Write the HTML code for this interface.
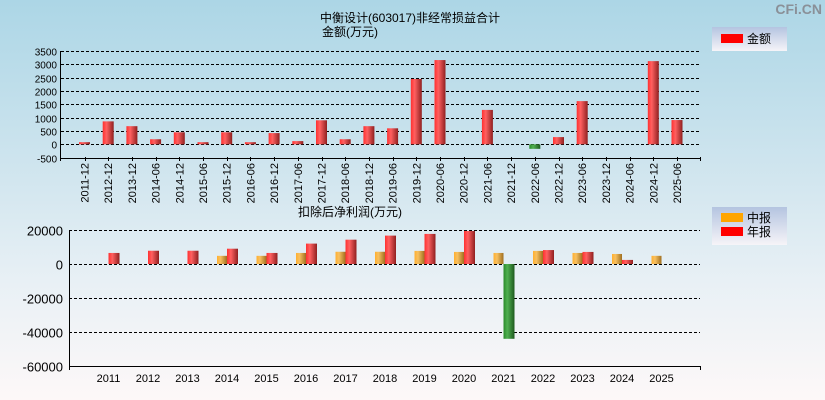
<!DOCTYPE html>
<html><head><meta charset="utf-8"><style>
html,body{margin:0;padding:0;}
body{width:825px;height:400px;overflow:hidden;background:linear-gradient(#acd6e6 0%,#d2e6ef 45%,#e8f0f5 70%,#fdf8f8 100%);font-family:"Liberation Sans","Noto Sans CJK SC",sans-serif;}
svg{position:absolute;left:0;top:0;}
</style></head><body>
<svg id="c" width="825" height="400" xmlns="http://www.w3.org/2000/svg">
<defs>
<linearGradient id="gr" x1="0" x2="1"><stop offset="0" stop-color="#ff3030"/><stop offset="0.35" stop-color="#ff6060"/><stop offset="1" stop-color="#902020"/></linearGradient>
<linearGradient id="gg" x1="0" x2="1"><stop offset="0" stop-color="#2a8a2a"/><stop offset="0.35" stop-color="#50b050"/><stop offset="1" stop-color="#1e5a1e"/></linearGradient>
<linearGradient id="go" x1="0" x2="1"><stop offset="0" stop-color="#ffb030"/><stop offset="0.35" stop-color="#f8c060"/><stop offset="1" stop-color="#a07020"/></linearGradient>
<linearGradient id="lg" x1="0" y1="0" x2="0" y2="1"><stop offset="0" stop-color="#b4c4e0"/><stop offset="1" stop-color="#f6f4f8"/></linearGradient>
</defs>
<text x="410" y="22" font-size="12" text-anchor="middle">中衡设计(603017)非经常损益合计</text>
<text x="322" y="36" font-size="12">金额(万元)</text>
<text x="822" y="14" font-size="14" font-weight="bold" fill="#8a9098" text-anchor="end">CFi.CN</text>
<g>
<rect x="712" y="27" width="75" height="24" fill="url(#lg)"/>
<rect x="721" y="34" width="22" height="9" fill="#ff0000"/>
<text x="747" y="43" font-size="12">金额</text>
</g>
<text x="298" y="216" font-size="12">扣除后净利润(万元)</text>
<g>
<rect x="712" y="207" width="75" height="38" fill="url(#lg)"/>
<rect x="721" y="213" width="22" height="9" fill="#ffa500"/>
<text x="747" y="222" font-size="12">中报</text>
<rect x="721" y="227" width="22" height="9" fill="#ff0000"/>
<text x="747" y="236" font-size="12">年报</text>
</g>
<g id="top"></g><g id="bot"></g>
</svg>
<script>
const topCats=["2011-12","2012-12","2013-12","2014-06","2014-12","2015-06","2015-12","2016-06","2016-12","2017-06","2017-12","2018-06","2018-12","2019-06","2019-12","2020-06","2020-12","2021-06","2021-12","2022-06","2022-12","2023-06","2023-12","2024-06","2024-12","2025-06"];
const topVals=[80,860,680,190,450,80,450,80,420,120,900,190,680,600,2450,3160,0,1290,0,-170,270,1620,0,0,3120,910];
const topTicks=[3500,3000,2500,2000,1500,1000,500,0,-500];
const botYears=["2011","2012","2013","2014","2015","2016","2017","2018","2019","2020","2021","2022","2023","2024","2025"];
const botInterim=[null,null,null,4800,4800,6500,7200,7200,7700,7100,6500,7700,6500,5900,4800];
const botAnnual=[6500,7800,7800,9000,6500,12000,14300,16700,17700,19400,-44000,8200,7100,2400,null];
const botTicks=[20000,0,-20000,-40000,-60000];
const NS="http://www.w3.org/2000/svg";
function mk(p,t,a){const e=document.createElementNS(NS,t);for(const k in a)e.setAttribute(k,a[k]);p.appendChild(e);return e;}
// top chart
const T=document.getElementById('top');
const tY=v=>144.3-v*(93.3/3500);
const tX=i=>84.5+i*(592.5/25);
topTicks.forEach(v=>{
  const y=Math.round(tY(v))+0.5;
  const l=mk(T,'line',{x1:61,x2:700,y1:y,y2:y,stroke:'#000','stroke-dasharray':'3,2'});
  
  
  if(v===-500){l.setAttribute('stroke-dasharray','none');}
  const t=mk(T,'text',{x:57,y:y+4,'font-size':10,'text-anchor':'end'});t.textContent=v;
  
  
});
mk(T,'line',{x1:60.5,x2:60.5,y1:51,y2:161,stroke:'#000'});
mk(T,'line',{x1:700.5,x2:700.5,y1:157,y2:161,stroke:'#000'});
topCats.forEach((c,i)=>{
  const x=tX(i);const v=topVals[i];
  if(v!==0){const y0=tY(0),y1=tY(v);
    const r=mk(T,'rect',{x:x-5.5,y:Math.min(y0,y1),width:11,height:Math.max(1,Math.abs(y1-y0)),fill:v<0?'url(#gg)':'url(#gr)'});
    
    }
  mk(T,'line',{x1:Math.round(x)+0.5,x2:Math.round(x)+0.5,y1:157,y2:161,stroke:'#000'});
  const t=mk(T,'text',{x:0,y:0,'font-size':11,'text-anchor':'end',transform:`translate(${x+4},163) rotate(-90)`});t.textContent=c;
  
  
});
// bottom chart
const B=document.getElementById('bot');
const bY=v=>264-v*(34/20000);
const bX=i=>108.5+i*(553/14);
botTicks.forEach(v=>{
  const y=Math.round(bY(v))+0.5;
  const l=mk(B,'line',{x1:69,x2:700,y1:y,y2:y,stroke:'#000','stroke-dasharray':'3,2'});
  
  
  if(v===-60000)l.setAttribute('stroke-dasharray','none');
  const t=mk(B,'text',{x:63,y:y+5,'font-size':13,'text-anchor':'end'});t.textContent=v;
  
  
});
mk(B,'line',{x1:69.5,x2:69.5,y1:230,y2:370,stroke:'#000'});
mk(B,'line',{x1:700.5,x2:700.5,y1:366,y2:370,stroke:'#000'});
botYears.forEach((c,i)=>{
  const x=bX(i);
  const a=botInterim[i],b=botAnnual[i];
  if(a!==null){const y1=bY(a);
    const r=mk(B,'rect',{x:x-10,y:Math.min(y1,264),width:10,height:Math.abs(264-y1),fill:'url(#go)'});
    
    }
  if(b!==null){const y1=bY(b);
    const r=mk(B,'rect',{x:x,y:Math.min(y1,264),width:11,height:Math.abs(264-y1),fill:b<0?'url(#gg)':'url(#gr)'});
    
    }
  const t=mk(B,'text',{x:x,y:382,'font-size':11,'text-anchor':'middle'});t.textContent=c;
  
  
});
</script>
</body></html>
